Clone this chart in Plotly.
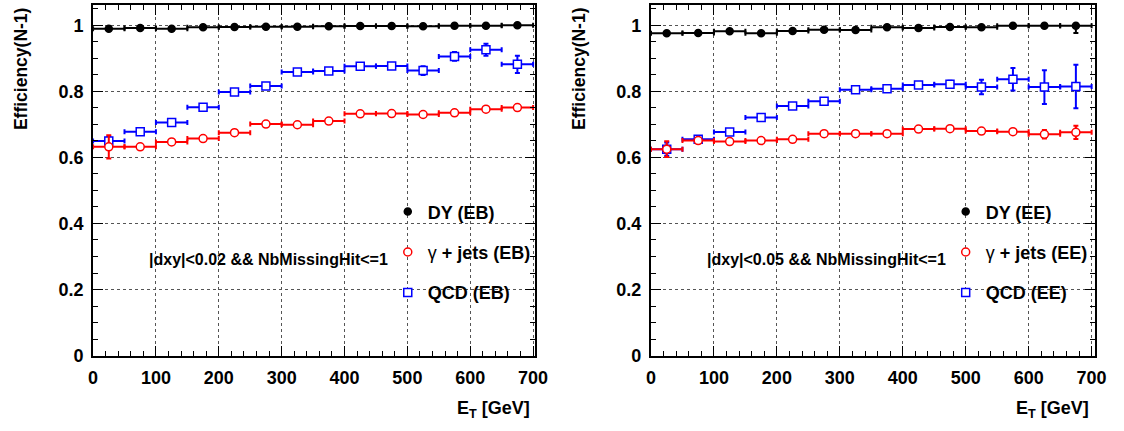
import plotly.graph_objects as go

# Bin centres and half-widths in E_T [GeV]
et_centers = [25, 75, 125, 175, 225, 275, 325, 375, 425, 475, 525, 575, 625, 675]
et_halfwidth = [25] * 14

# Barrel (EB), cut |dxy|<0.02 && NbMissingHit<=1
dy_eb = [0.990, 0.992, 0.990, 0.994, 0.995, 0.996, 0.996, 0.997, 0.998, 0.998, 0.997, 0.999, 0.999, 1.000]
dy_eb_err = [0.002] * 14
gj_eb = [0.632, 0.632, 0.647, 0.657, 0.675, 0.701, 0.699, 0.710, 0.732, 0.733, 0.730, 0.735, 0.746, 0.751]
gj_eb_err = [0.035, 0.004, 0.003, 0.003, 0.003, 0.003, 0.003, 0.003, 0.003, 0.003, 0.003, 0.004, 0.004, 0.004]
qcd_eb = [0.650, 0.678, 0.706, 0.752, 0.798, 0.816, 0.859, 0.862, 0.876, 0.877, 0.863, 0.906, 0.926, 0.882]
qcd_eb_err = [0.013, 0.004, 0.004, 0.004, 0.004, 0.004, 0.004, 0.004, 0.005, 0.006, 0.013, 0.013, 0.018, 0.026]

# Endcap (EE), cut |dxy|<0.05 && NbMissingHit<=1
dy_ee = [0.976, 0.977, 0.982, 0.976, 0.983, 0.987, 0.986, 0.994, 0.992, 0.995, 0.994, 0.999, 0.999, 0.999]
dy_ee_err_plus = [0.002] * 13 + [0.001]
dy_ee_err_minus = [0.002] * 13 + [0.022]
gj_ee = [0.625, 0.651, 0.648, 0.651, 0.655, 0.672, 0.672, 0.672, 0.686, 0.687, 0.680, 0.678, 0.670, 0.676]
gj_ee_err = [0.024, 0.006, 0.004, 0.004, 0.004, 0.004, 0.004, 0.004, 0.004, 0.004, 0.005, 0.006, 0.013, 0.020]
qcd_ee = [0.625, 0.655, 0.677, 0.721, 0.756, 0.770, 0.805, 0.808, 0.819, 0.822, 0.813, 0.837, 0.813, 0.815]
qcd_ee_err = [0.020, 0.006, 0.005, 0.005, 0.005, 0.005, 0.006, 0.006, 0.007, 0.010, 0.022, 0.034, 0.051, 0.066]

# Axis tick positions and labels
x_tickvals = [0, 100, 200, 300, 400, 500, 600, 700]
x_ticktext = ["0", "100", "200", "300", "400", "500", "600", "700"]
y_tickvals = [0, 0.2, 0.4, 0.6, 0.8, 1.0]
y_ticktext = ["0", "0.2", "0.4", "0.6", "0.8", "1"]

W, H = 1124, 431
FONT = "Liberation Sans, Arial, sans-serif"

fig = go.Figure()


def add_series(x, y, eplus, eminus, name, color, symbol, fill, xa, ya, legend, rank, size):
    fig.add_trace(go.Scatter(
        x=x, y=y, mode="markers", name=name,
        xaxis=xa, yaxis=ya, legend=legend, legendgroup=name + legend, legendrank=rank,
        marker=dict(symbol=symbol, size=size, color=fill, line=dict(color=color, width=1.5)),
        error_x=dict(type="data", array=et_halfwidth, color=color, thickness=2, width=2.5),
        error_y=dict(type="data", symmetric=False, array=eplus, arrayminus=eminus,
                     color=color, thickness=2, width=2.5),
    ))


gam = "γ"

add_series(et_centers, dy_eb, dy_eb_err, dy_eb_err, "<b>DY (EB)</b>", "black", "circle", "black", "x", "y", "legend", 1, 7)
add_series(et_centers, qcd_eb, qcd_eb_err, qcd_eb_err, "<b>QCD (EB)</b>", "#0000ff", "square", "white", "x", "y", "legend", 3, 8)
add_series(et_centers, gj_eb, gj_eb_err, gj_eb_err, gam + "<b> + jets (EB)</b>", "#ff0000", "circle", "white", "x", "y", "legend", 2, 8)

add_series(et_centers, dy_ee, dy_ee_err_plus, dy_ee_err_minus, "<b>DY (EE)</b>", "black", "circle", "black", "x2", "y2", "legend2", 1, 7)
add_series(et_centers, qcd_ee, qcd_ee_err, qcd_ee_err, "<b>QCD (EE)</b>", "#0000ff", "square", "white", "x2", "y2", "legend2", 3, 8)
add_series(et_centers, gj_ee, gj_ee_err, gj_ee_err, gam + "<b> + jets (EE)</b>", "#ff0000", "circle", "white", "x2", "y2", "legend2", 2, 8)


def xaxis(domain, rng, anchor):
    return dict(
        domain=domain, range=rng, anchor=anchor,
        tickmode="array", tickvals=x_tickvals, ticktext=["<b>%s</b>" % t for t in x_ticktext],
        ticks="inside", ticklen=10, tickwidth=1, tickcolor="black", ticklabelstandoff=5,
        minor=dict(dtick=20, tick0=0, ticks="inside", ticklen=5, tickcolor="black", showgrid=False),
        showgrid=True, griddash="dot", gridcolor="#555555", gridwidth=1,
        showline=True, linewidth=2, linecolor="black", mirror="ticks",
        zeroline=False,
        tickfont=dict(family=FONT, size=18, color="black"),
    )


def yaxis(domain, anchor):
    return dict(
        domain=domain, range=[0, 1.062], anchor=anchor,
        tickmode="array", tickvals=y_tickvals, ticktext=["<b>%s</b>" % t for t in y_ticktext],
        ticks="inside", ticklen=10, tickwidth=1, tickcolor="black", ticklabelstandoff=4,
        minor=dict(dtick=0.05, tick0=0, ticks="inside", ticklen=5, tickcolor="black", showgrid=False),
        showgrid=True, griddash="dot", gridcolor="#555555", gridwidth=1,
        showline=True, linewidth=2, linecolor="black", mirror="ticks",
        zeroline=False,
        tickfont=dict(family=FONT, size=18, color="black"),
    )


ydom = [1 - 364 / H, 1 - 5 / H]

legend_style = dict(
    font=dict(family=FONT, size=18, color="black"),
    bgcolor="rgba(0,0,0,0)", tracegroupgap=14,
    xanchor="left", yanchor="top", y=1 - 198 / H,
)

annotations = []
for xc, txt in [(267.5, "|dxy|<0.02 && NbMissingHit<=1"), (834.5, "|dxy|<0.05 && NbMissingHit<=1")]:
    annotations.append(dict(
        x=xc / W, y=1 - 266 / H, xref="paper", yref="paper", xanchor="center", yanchor="middle",
        text="<b>%s</b>" % txt, showarrow=False,
        font=dict(family=FONT, size=16, color="black"),
    ))
for xr in [536, 1104]:
    annotations.append(dict(
        x=xr / W, y=1 - 419 / H, xref="paper", yref="paper", xanchor="right", yanchor="middle",
        text="<b>E<sub>T</sub> [GeV]</b>", showarrow=False,
        font=dict(family=FONT, size=18, color="black"),
    ))
for xc in [17, 584]:
    annotations.append(dict(
        x=xc / W, y=1 - 5 / H, xref="paper", yref="paper", xanchor="center", yanchor="top",
        text="<b>Efficiency(N-1)</b>", textangle=-90, showarrow=False,
        font=dict(family=FONT, size=17.5, color="black"),
    ))

fig.update_layout(
    width=W, height=H, margin=dict(l=0, r=0, t=0, b=0),
    paper_bgcolor="white", plot_bgcolor="white",
    xaxis=xaxis([89.5 / W, 539 / W], [0, 703.6], "y"),
    yaxis=yaxis(ydom, "x"),
    xaxis2=xaxis([656.5 / W, 1107.5 / W], [0, 705], "y2"),
    yaxis2=yaxis(ydom, "x2"),
    legend=dict(x=389 / W, **legend_style),
    legend2=dict(x=956 / W, **legend_style),
    annotations=annotations,
    showlegend=True,
)

fig.write_html("out.html")
